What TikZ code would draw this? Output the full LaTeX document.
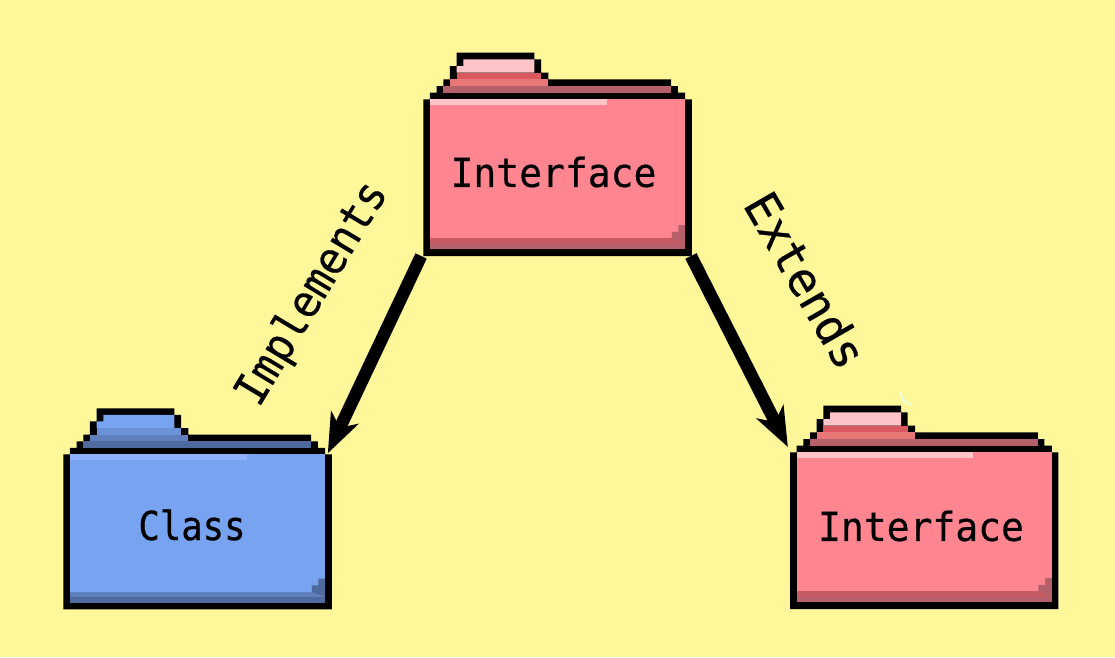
\documentclass[tikz,border=0pt]{standalone}
\usepackage{fontspec}
\newfontfamily\pixfont[FakeBold=0.5]{DejaVu Sans Mono}
\usetikzlibrary{arrows.meta}
\definecolor{bgyellow}{HTML}{FFF799}
\definecolor{pkbody}{HTML}{FF8590}
\definecolor{pkhigh}{HTML}{FFC4C8}
\definecolor{pktaba}{HTML}{FFC4C8}
\definecolor{pktabb}{HTML}{D9595F}
\definecolor{pktabc}{HTML}{E87878}
\definecolor{pkband}{HTML}{C55A62}
\definecolor{pkdark}{HTML}{B5606A}
\definecolor{blbody}{HTML}{78A3F0}
\definecolor{blhigh}{HTML}{8EB0FF}
\definecolor{bltaba}{HTML}{78A3F0}
\definecolor{bltabb}{HTML}{6C92D8}
\definecolor{bltabc}{HTML}{5F80BC}
\definecolor{blband}{HTML}{5F80BC}
\definecolor{bldark}{HTML}{4F6A9E}
\tikzset{
  bodybox/.style={inner sep=0pt,minimum width=268.4pt,minimum height=#1},
  pixlabel/.style={inner sep=0pt,text=black},
  inherits/.style={line width=12.5pt,draw=black,-{Stealth[length=40pt,width=31pt,inset=12pt,line width=0pt]}}
}
% #1 node name, #2 left x, #3 tab top y, #4 vertical cell, #5 palette prefix
\newcommand{\pixfolder}[5]{%
  \begin{scope}[shift={(#2,#3)},x=6.67pt,y=-#4pt]
    \fill[black] (5,0)--(16.65,0)--(16.65,1)--(17.65,1)--(17.65,3)--(18.75,3)--(18.75,4)--(37.15,4)--(37.15,5)--(38.15,5)--(38.15,6)--(39.25,6)--(39.25,7)--(40.25,7)--(40.25,30.5)--(0,30.5)--(0,7)--(1,7)--(1,6)--(2,6)--(2,5)--(3,5)--(3,4)--(4,4)--(4,2)--(5,2)--cycle;
    % tab
    \fill[#5taba] (6,1)--(16.65,1)--(16.65,3)--(5,3)--(5,2)--(6,2)--cycle;
    \fill[#5tabb] (5,3) rectangle (17.65,4);
    \fill[#5tabc] (4,4) rectangle (18.75,5);
    \fill[#5dark] (3,5) rectangle (37.15,6);
    % body
    \fill[#5body] (1,7) rectangle (39.25,29.5);
    \fill[#5high] (1,7) rectangle (27.5,7.85);
    \fill[#5band] (1,27.85) rectangle (39.25,28.65);
    \fill[#5dark] (1,28.65) rectangle (39.25,29.5);
    \fill[#5dark] (37.25,27.85)--(37.25,26.85)--(38.25,26.85)--(38.25,25.85)--(39.25,25.85)--(39.25,28.65)--cycle;
  \end{scope}
}
\begin{document}
\begin{tikzpicture}[x=1pt,y=-1pt]
  \useasboundingbox (0,0) rectangle (1115,657);
  \fill[bgyellow] (0,0) rectangle (1115,657);

  \pixfolder{top}{423.3}{52.7}{6.67}{pk}
  \pixfolder{cls}{63.3}{408.3}{6.59}{bl}
  \pixfolder{sub}{790}{405.7}{6.67}{pk}

  \node[bodybox=156.7pt] (topbody) at (557.5,177.4) {};
  \node[bodybox=155.5pt] (clsbody) at (197.5,531) {};
  \node[bodybox=156.7pt] (subbody) at (924.2,530.4) {};

  \node[pixlabel] (toplabel) at (553.5,172) {\pixfont\fontsize{40}{40}\selectfont\scalebox{.95}[1]{Interface}};
  \node[pixlabel] (clslabel) at (192,525) {\pixfont\fontsize{40}{40}\selectfont\scalebox{.89}[1]{Class}};
  \node[pixlabel] (sublabel) at (921,526) {\pixfont\fontsize{40}{40}\selectfont\scalebox{.95}[1]{Interface}};

  \node[pixlabel,rotate=59] (implabel) at (313,294) {\pixfont\fontsize{45}{45}\selectfont\scalebox{.93}[1]{Implements}};
  \node[pixlabel,rotate=-60] (extlabel) at (806,280) {\pixfont\fontsize{47}{47}\selectfont\scalebox{.98}[1]{Extends}};

  \draw[inherits] ([xshift=-2pt]topbody.south west) -- ([xshift=-4pt]clsbody.north east);
  \draw[inherits] ([xshift=-1pt]topbody.south east) -- ([xshift=-2pt,yshift=5pt]subbody.north west);

  \draw[white!92!green,line width=1.6pt] (901,392) .. controls (901,398) and (904,404) .. (911,404);
  \fill[green!25!white] (903,394) .. controls (903,398) and (905,401) .. (907,402) .. controls (904,401) and (902,398) .. (903,394) -- cycle;
\end{tikzpicture}
\end{document}
